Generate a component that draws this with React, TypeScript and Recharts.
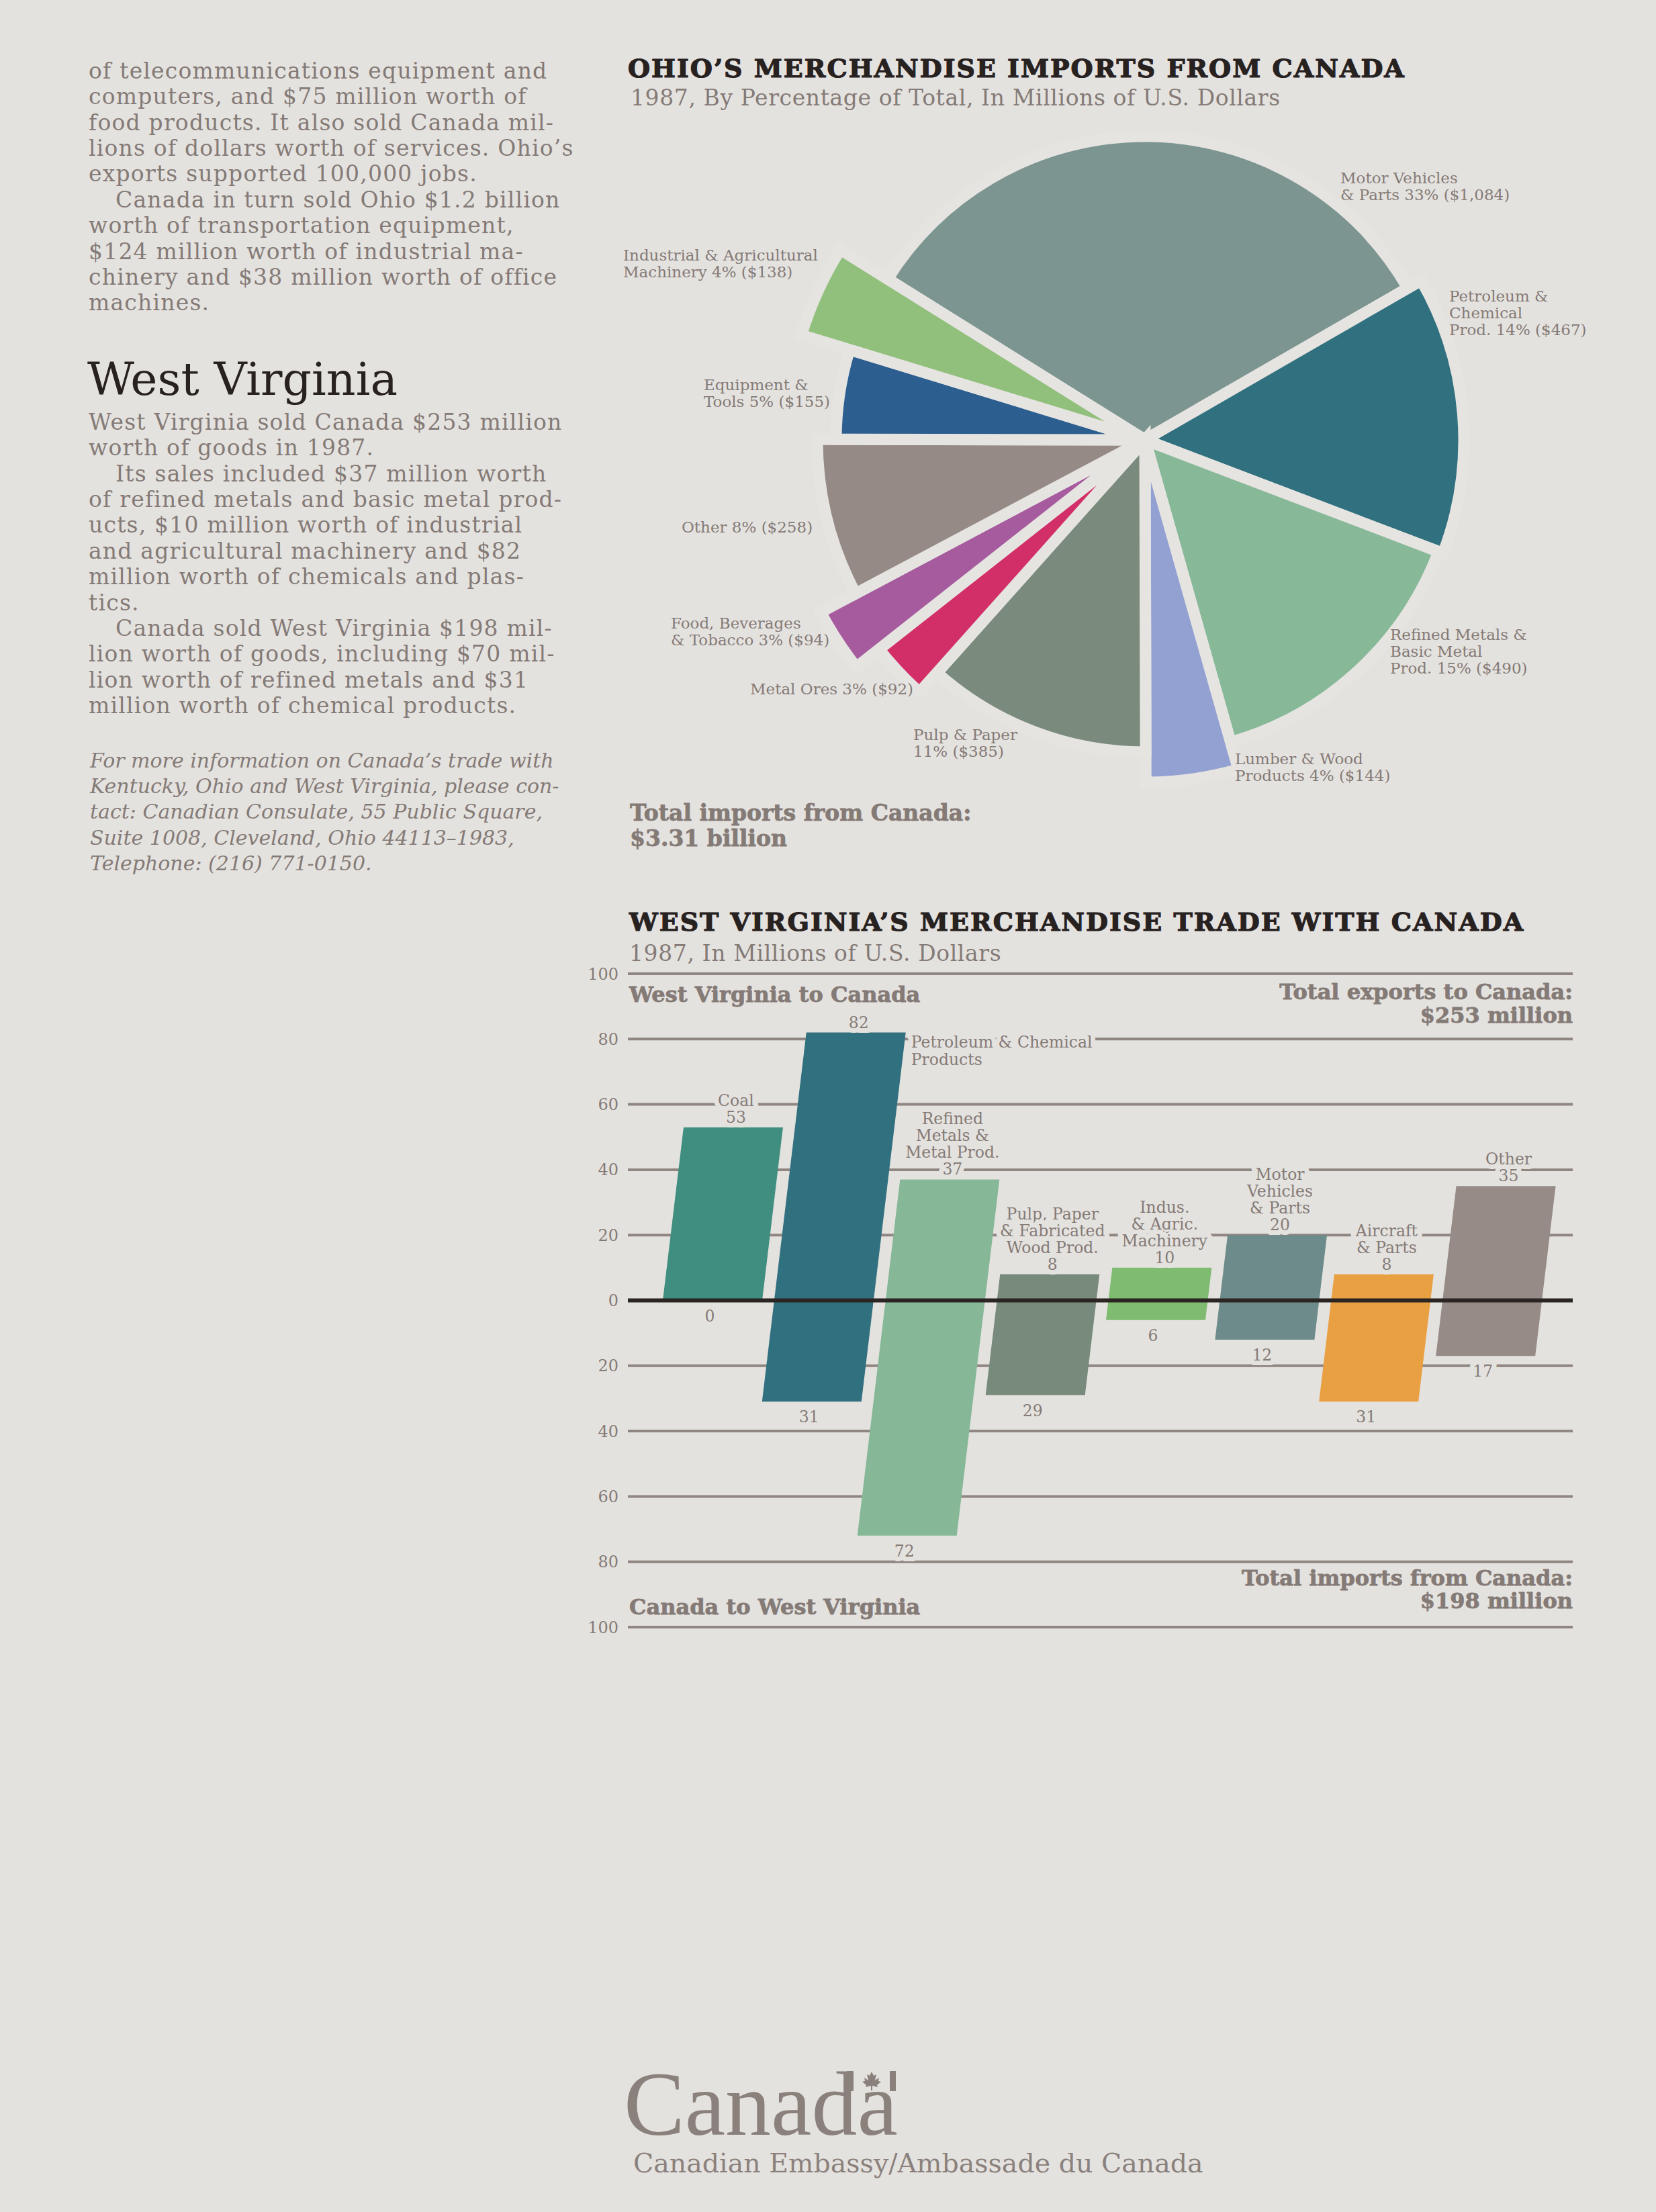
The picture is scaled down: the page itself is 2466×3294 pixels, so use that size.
import React from 'react'
import { PieChart, Pie, Cell, BarChart, Bar, XAxis, YAxis, CartesianGrid, ReferenceLine } from 'recharts'

const PAGE_W = 2466
const PAGE_H = 3294
const BG = '#e4e2df'
const GAP = '#e6e4e1'
const INK = '#847a76'
const DARK = '#27211f'
const SERIF = '"DejaVu Serif", "Liberation Serif", serif'

// ---- Ohio's merchandise imports from Canada, 1987 ($ millions) ----
const importCategories = [
  'Motor Vehicles & Parts',
  'Petroleum & Chemical Prod.',
  'Refined Metals & Basic Metal Prod.',
  'Lumber & Wood Products',
  'Pulp & Paper',
  'Metal Ores',
  'Food, Beverages & Tobacco',
  'Other',
  'Equipment & Tools',
  'Industrial & Agricultural Machinery',
]
const importValues = [1084, 467, 490, 144, 385, 92, 94, 258, 155, 138]
const importShares = [33, 14, 15, 4, 11, 3, 3, 8, 5, 4]
const importLabelLines = [
  ['Motor Vehicles', '& Parts {p}% ({v})'],
  ['Petroleum &', 'Chemical', 'Prod. {p}% ({v})'],
  ['Refined Metals &', 'Basic Metal', 'Prod. {p}% ({v})'],
  ['Lumber & Wood', 'Products {p}% ({v})'],
  ['Pulp & Paper', '{p}% ({v})'],
  ['Metal Ores {p}% ({v})'],
  ['Food, Beverages', '& Tobacco {p}% ({v})'],
  ['Other {p}% ({v})'],
  ['Equipment &', 'Tools {p}% ({v})'],
  ['Industrial & Agricultural', 'Machinery {p}% ({v})'],
]

// slice styling (kept apart from the data)
const sliceColors = ['#7c9591', '#31717f', '#87b898', '#93a0d2', '#7a8b7e', '#d22e68', '#a65b9e', '#958a85', '#2c5e8f', '#91bf7c']
const sliceRadius = [452, 475, 468, 510, 465, 504, 547, 488, 460, 535]
const sliceLabelAt = [
  [291, -390], [453, -214], [365, 290], [134, 475], [-345, 439],
  [-588, 371], [-706, 273], [-690, 130], [-657, -82], [-777, -275],
]

// ---- West Virginia's merchandise trade with Canada, 1987 ($ millions) ----
const tradeCategories = [
  'Coal',
  'Petroleum & Chemical Products',
  'Refined Metals & Metal Prod.',
  'Pulp, Paper & Fabricated Wood Prod.',
  'Indus. & Agric. Machinery',
  'Motor Vehicles & Parts',
  'Aircraft & Parts',
  'Other',
]
const exportsToCanada = [53, 82, 37, 8, 10, 20, 8, 35]
const importsFromCanada = [0, 31, 72, 29, 6, 12, 31, 17]
const barLabelLines = [
  ['Coal'],
  ['Petroleum & Chemical', 'Products'],
  ['Refined', 'Metals &', 'Metal Prod.'],
  ['Pulp, Paper', '& Fabricated', 'Wood Prod.'],
  ['Indus.', '& Agric.', 'Machinery'],
  ['Motor', 'Vehicles', '& Parts'],
  ['Aircraft', '& Parts'],
  ['Other'],
]
const barLabelBeside = [false, true, false, false, false, false, false, false]
const yTicks = [-100, -80, -60, -40, -20, 0, 20, 40, 60, 80, 100]

const barColors = ['#3f8e80', '#30707f', '#86b898', '#788a7c', '#7fbb71', '#6c8b8a', '#e9a043', '#968b86']
const SHEAR = 0.12

const pieData = importCategories.map((name, i) => ({ name, value: importValues[i] }))
const tradeData = tradeCategories.map((name, i) => ({
  name,
  exp: exportsToCanada[i],
  imp: importsFromCanada[i],
  range: [-importsFromCanada[i], exportsToCanada[i]],
}))

const fmtLabel = (line: string, i: number) =>
  line.replace('{p}', String(importShares[i])).replace('{v}', '$' + importValues[i].toLocaleString('en-US'))

const renderSliceLabel = (props: any) => {
  const { cx, cy, index } = props
  const [dx, dy] = sliceLabelAt[index]
  const x = cx + dx
  return (
    <text x={x} y={cy + dy + 8} fill={INK} fontSize={23} fontFamily={SERIF}>
      {importLabelLines[index].map((l, j) => (
        <tspan key={j} x={x} dy={j === 0 ? 0 : 25}>{fmtLabel(l, index)}</tspan>
      ))}
    </text>
  )
}

const halo = {
  stroke: BG,
  strokeWidth: 14,
  strokeLinejoin: 'round' as const,
  paintOrder: 'stroke' as const,
}

// slanted bar + its value labels
const SlantBar = (props: any) => {
  const { x, y, width, height, fill, index } = props
  const h = Math.abs(height)
  const top = Math.min(y, y + height)
  const bottom = top + h
  const hi = exportsToCanada[index]
  const lo = -importsFromCanada[index]
  const y0 = hi - lo > 0 ? top + (h * hi) / (hi - lo) : bottom
  const a = SHEAR * (y0 - top)
  const b = SHEAR * (bottom - y0)
  const pts = `${x + a},${top} ${x + width + a},${top} ${x + width - b},${bottom} ${x - b},${bottom}`
  const topMid = x + width / 2 + a
  const botMid = x + width / 2 - b
  const lines = barLabelLines[index]
  const lh = 25
  const vy = top - 15 + 8
  return (
    <g>
      <polygon points={pts} fill={fill} />
      <g fill={INK} fontSize={23.5} fontFamily={SERIF} textAnchor="middle" style={halo}>
        <text x={topMid + 4} y={vy}>{hi}</text>
        {barLabelBeside[index]
          ? lines.map((l, j) => (
              <text key={j} x={x + width + a + 8} y={top + 14 + 8 + j * 26} textAnchor="start">{l}</text>
            ))
          : lines.map((l, j) => (
              <text key={j} x={topMid + 4} y={vy - (lines.length - j) * lh}>{l}</text>
            ))}
        <text x={botMid - 4} y={bottom + 23 + 8}>{-lo}</text>
      </g>
    </g>
  )
}

const Txt = ({ x, y, size, children, style }: any) => (
  <div
    style={{
      position: 'absolute',
      left: x,
      top: y - size * 0.58,
      fontSize: size,
      lineHeight: `${size * 1.2}px`,
      whiteSpace: 'nowrap',
      ...style,
    }}
  >
    {children}
  </div>
)

const RTxt = ({ x, y, size, children, style }: any) => (
  <div
    style={{
      position: 'absolute',
      right: PAGE_W - x,
      top: y - size * 0.58,
      fontSize: size,
      lineHeight: `${size * 1.2}px`,
      whiteSpace: 'nowrap',
      textAlign: 'right',
      ...style,
    }}
  >
    {children}
  </div>
)

const para1 = [
  ['of telecommunications equipment and', false],
  ['computers, and $75 million worth of', false],
  ['food products. It also sold Canada mil-', false],
  ['lions of dollars worth of services. Ohio’s', false],
  ['exports supported 100,000 jobs.', false],
  ['Canada in turn sold Ohio $1.2 billion', true],
  ['worth of transportation equipment,', false],
  ['$124 million worth of industrial ma-', false],
  ['chinery and $38 million worth of office', false],
  ['machines.', false],
]
const para2 = [
  ['West Virginia sold Canada $253 million', false],
  ['worth of goods in 1987.', false],
  ['Its sales included $37 million worth', true],
  ['of refined metals and basic metal prod-', false],
  ['ucts, $10 million worth of industrial', false],
  ['and agricultural machinery and $82', false],
  ['million worth of chemicals and plas-', false],
  ['tics.', false],
  ['Canada sold West Virginia $198 mil-', true],
  ['lion worth of goods, including $70 mil-', false],
  ['lion worth of refined metals and $31', false],
  ['million worth of chemical products.', false],
]
const para3 = [
  'For more information on Canada’s trade with',
  'Kentucky, Ohio and West Virginia, please con-',
  'tact: Canadian Consulate, 55 Public Square,',
  'Suite 1008, Cleveland, Ohio 44113–1983,',
  'Telephone: (216) 771-0150.',
]

const LH = 38.4
const body = { letterSpacing: 1.2 }
const head = { fontWeight: 'bold', WebkitTextStroke: '0.8px ' + INK }
const title = { color: DARK, fontWeight: 'bold', letterSpacing: 2, WebkitTextStroke: '1.2px ' + DARK }

export default function App() {
  return (
    <div
      style={{
        position: 'absolute',
        left: 0,
        top: 0,
        width: PAGE_W,
        height: PAGE_H,
        background: BG,
        overflow: 'hidden',
        fontFamily: SERIF,
        color: INK,
      }}
    >
      {/* left column */}
      {para1.map(([t, ind], i) => (
        <Txt key={'a' + i} x={132 + (ind ? 40 : 0)} y={105 + i * LH} size={33} style={body}>{t}</Txt>
      ))}
      <Txt x={130} y={563} size={68} style={{ color: DARK }}>West Virginia</Txt>
      {para2.map(([t, ind], i) => (
        <Txt key={'b' + i} x={132 + (ind ? 40 : 0)} y={628 + i * LH} size={33} style={body}>{t}</Txt>
      ))}
      {para3.map((t, i) => (
        <Txt key={'c' + i} x={134} y={1132 + i * LH} size={30} style={{ fontStyle: 'italic' }}>{t}</Txt>
      ))}

      {/* pie */}
      <Txt x={935} y={101} size={38} style={title}>OHIO’S MERCHANDISE IMPORTS FROM CANADA</Txt>
      <Txt x={939} y={145} size={33} style={{ letterSpacing: 0.6 }}>
        1987, By Percentage of Total, In Millions of U.S. Dollars
      </Txt>
      <div style={{ position: 'absolute', left: 900, top: 150 }}>
        <PieChart width={1500} height={1100}>
          {pieData.map((_, k) => (
            <Pie
              key={k}
              data={pieData}
              dataKey="value"
              nameKey="name"
              cx={800}
              cy={500}
              innerRadius={0}
              outerRadius={sliceRadius[k]}
              startAngle={148}
              endAngle={-212}
              stroke={GAP}
              strokeWidth={17}
              isAnimationActive={false}
              labelLine={false}
              label={k === 0 ? renderSliceLabel : false}
            >
              {pieData.map((_, i) => (
                <Cell key={i} fill={i === k ? sliceColors[i] : 'none'} stroke={i === k ? GAP : 'none'} />
              ))}
            </Pie>
          ))}
        </PieChart>
      </div>
      <Txt x={938} y={1210} size={33} style={head}>Total imports from Canada:</Txt>
      <Txt x={938} y={1248} size={33} style={head}>$3.31 billion</Txt>

      {/* bars */}
      <Txt x={937} y={1372} size={38} style={title}>WEST VIRGINIA’S MERCHANDISE TRADE WITH CANADA</Txt>
      <Txt x={937} y={1419} size={33} style={{ letterSpacing: 0.6 }}>1987, In Millions of U.S. Dollars</Txt>
      <div style={{ position: 'absolute', left: 0, top: 1400 }}>
        <BarChart
          width={PAGE_W}
          height={1100}
          data={tradeData}
          margin={{ top: 50, right: 124, bottom: 77, left: 875 }}
          barSize={148}
        >
          <CartesianGrid vertical={false} stroke="#8f8581" strokeWidth={4} />
          <XAxis dataKey="name" hide padding={{ left: 43, right: 37 }} />
          <YAxis
            width={60}
            domain={[-100, 100]}
            ticks={yTicks}
            interval={0}
            tickFormatter={(v: number) => String(Math.abs(v))}
            axisLine={false}
            tickLine={false}
            tickSize={0}
            tickMargin={14}
            tick={{ fill: INK, fontSize: 24, fontFamily: SERIF }}
          />
          <Bar dataKey="range" isAnimationActive={false} shape={<SlantBar />}>
            {tradeData.map((_, i) => (
              <Cell key={i} fill={barColors[i]} />
            ))}
          </Bar>
          <ReferenceLine y={0} stroke="#2a2523" strokeWidth={6} />
        </BarChart>
      </div>
      <Txt x={937} y={1481} size={32} style={head}>West Virginia to Canada</Txt>
      <RTxt x={2342} y={1477} size={32} style={head}>Total exports to Canada:</RTxt>
      <RTxt x={2342} y={1512} size={32} style={head}>$253 million</RTxt>
      <Txt x={937} y={2393} size={32} style={head}>Canada to West Virginia</Txt>
      <RTxt x={2342} y={2350} size={32} style={head}>Total imports from Canada:</RTxt>
      <RTxt x={2342} y={2384} size={32} style={head}>$198 million</RTxt>

      {/* signature */}
      <div
        style={{
          position: 'absolute',
          left: 929,
          top: 3066,
          fontSize: 136,
          lineHeight: '134px',
          fontFamily: '"Liberation Serif", serif',
          color: '#8b817c',
          whiteSpace: 'nowrap',
        }}
      >
        Canada
      </div>
      <svg style={{ position: 'absolute', left: 1255, top: 3080 }} width={85} height={40}>
        <g fill="#8b817c">
          <rect x={6} y={4} width={10} height={30} />
          <rect x={70} y={4} width={9} height={30} />
          <polygon points="43,5 46,11 50,9 48,18 54,14 53,19 57,20 51,25 52,28 44,26 44,33 42,33 42,26 34,28 35,25 29,20 33,19 32,14 38,18 36,9 40,11" />
        </g>
      </svg>
      <Txt x={943} y={3221} size={39.5} style={{ color: '#8b817c' }}>Canadian Embassy/Ambassade du Canada</Txt>
    </div>
  )
}
